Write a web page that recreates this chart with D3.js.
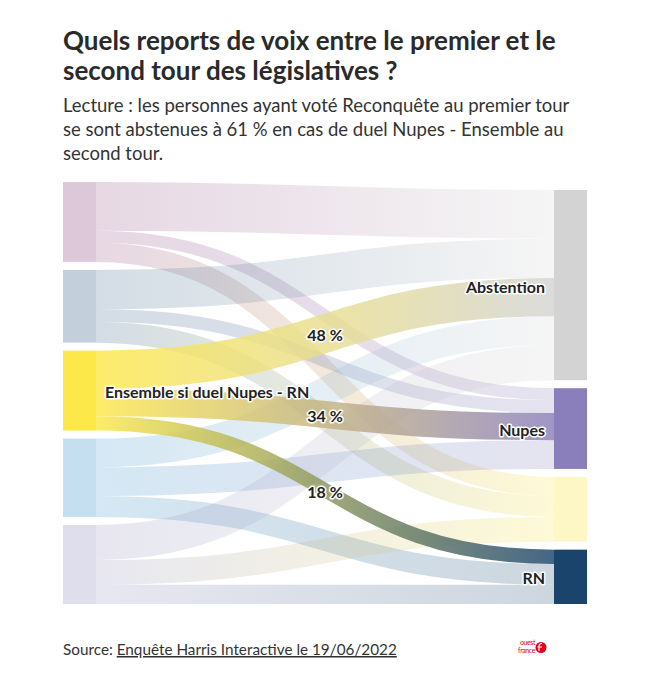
<!DOCTYPE html>
<html>
<head>
<meta charset="utf-8">
<script src="https://cdn.jsdelivr.net/npm/d3@7"></script>
<style>
  html, body { margin: 0; padding: 0; background: #fff; }
  svg { display: block; }
  text { font-family: "Source Sans Pro", Lato, "Noto Sans", sans-serif; }
</style>
</head>
<body>
<div id="chart"></div>
<script>
// ---------- DATA ----------
const titleLines = ["Quels reports de voix entre le premier et le", "second tour des législatives ?"];
const subtitleLines = [
  "Lecture : les personnes ayant voté Reconquête au premier tour",
  "se sont abstenues à 61 % en cas de duel Nupes - Ensemble au",
  "second tour."
];
const sourceText = "Source: ";
const sourceLink = "Enquête Harris Interactive le 19/06/2022";

// first-round electorate by second-round duel (left column)
const sources = [
  "Reconquête si duel Nupes - Ensemble",
  "LR si duel Nupes - Ensemble",
  "Ensemble si duel Nupes - RN",
  "LR si duel Nupes - RN",
  "Nupes si duel Ensemble - RN"
];
const sourceColors = ["#8f4a80", "#37628a", "#fde84a", "#3e94cd", "#9491c0"];

// second-round choice (right column)
const targets = ["Abstention", "Nupes", "Ensemble", "RN"];
const targetColors = ["#d3d3d3", "#8a7fba", "#f8e441", "#1b446c"];

// percentages, one value per source (null = no flow)
const toAbstention = [61, 49, 48, 36, 44];
const toNupes      = [15, 16, 34, 36, null];
const toEnsemble   = [24, 26, null, null, 31];
const toRN         = [null, null, 18, 26, 24];

const highlighted = "Ensemble si duel Nupes - RN";

// ---------- LAYOUT ----------
const W = 649, H = 680;
const chartTop = 182, chartBottom = 604;
const leftX = 63, rightX = 587, nodeW = 33, pad = 8;
const fadedNode = 0.3, fadedLink = 0.22, strongLink = 0.82;

const series = [toAbstention, toNupes, toEnsemble, toRN];
const links = [];
sources.forEach((s, i) => {
  series.forEach((arr, j) => {
    if (arr[i] != null) links.push({ si: i, ti: j, value: arr[i] });
  });
});

const srcNodes = sources.map((name, i) => ({ name, color: sourceColors[i], value: d3.sum(links.filter(l => l.si === i), l => l.value) }));
const tgtNodes = targets.map((name, j) => ({ name, color: targetColors[j], value: d3.sum(links.filter(l => l.ti === j), l => l.value) }));

const total = d3.sum(srcNodes, d => d.value);
const y = d3.scaleLinear().domain([0, total]).range([0, (chartBottom - chartTop) - (srcNodes.length - 1) * pad]);
const x = d3.scaleLinear().domain([0, 1]).range([leftX, rightX - nodeW]);

// left column stacked from top
let cy = chartTop;
srcNodes.forEach(n => { n.x0 = x(0); n.x1 = x(0) + nodeW; n.y0 = cy; n.y1 = cy + y(n.value); cy = n.y1 + pad; });
// right column bottom-aligned
const rightH = d3.sum(tgtNodes, d => y(d.value)) + (tgtNodes.length - 1) * pad;
cy = chartBottom - rightH;
tgtNodes.forEach(n => { n.x0 = x(1); n.x1 = x(1) + nodeW; n.y0 = cy; n.y1 = cy + y(n.value); cy = n.y1 + pad; });

// link offsets
srcNodes.forEach((n, i) => {
  let off = n.y0;
  links.filter(l => l.si === i).sort((a, b) => a.ti - b.ti).forEach(l => { l.w = y(l.value); l.y0 = off + l.w / 2; off += l.w; });
});
tgtNodes.forEach((n, j) => {
  let off = n.y0;
  links.filter(l => l.ti === j).sort((a, b) => a.si - b.si).forEach(l => { l.y1 = off + l.w / 2; off += l.w; });
});
links.forEach(l => {
  l.source = srcNodes[l.si]; l.target = tgtNodes[l.ti];
  l.hi = l.source.name === highlighted;
});
const hiTargets = new Set(links.filter(l => l.hi).map(l => l.ti));

// ---------- DRAW ----------
const svg = d3.select("#chart").append("svg").attr("width", W).attr("height", H);
const defs = svg.append("defs");

// title
svg.append("g").selectAll("text").data(titleLines).join("text")
  .attr("x", leftX).attr("y", (d, i) => 50 + i * 30)
  .attr("font-size", 26).attr("font-weight", 700).attr("fill", "#2a2a2a")
  .text(d => d);

svg.append("g").selectAll("text").data(subtitleLines).join("text")
  .attr("x", leftX).attr("y", (d, i) => 112 + i * 24)
  .attr("font-size", 18.5).attr("fill", "#333")
  .text(d => d);

// gradients
links.forEach((l, k) => {
  const g = defs.append("linearGradient").attr("id", "g" + k)
    .attr("gradientUnits", "userSpaceOnUse")
    .attr("x1", l.source.x1).attr("x2", l.target.x0).attr("y1", 0).attr("y2", 0);
  g.append("stop").attr("offset", "0%").attr("stop-color", l.source.color);
  g.append("stop").attr("offset", "100%").attr("stop-color", l.target.color);
  l.k = k;
});

const linkPath = d3.linkHorizontal().source(l => [l.source.x1, l.y0]).target(l => [l.target.x0, l.y1]);

const ordered = links.filter(l => !l.hi).concat(links.filter(l => l.hi));
svg.append("g").attr("fill", "none").selectAll("path").data(ordered).join("path")
  .attr("d", linkPath)
  .attr("stroke", l => `url(#g${l.k})`)
  .attr("stroke-width", l => l.w)
  .attr("stroke-opacity", l => l.hi ? strongLink : fadedLink);

// nodes
svg.append("g").selectAll("rect").data(srcNodes).join("rect")
  .attr("x", d => d.x0).attr("y", d => d.y0).attr("width", nodeW).attr("height", d => d.y1 - d.y0)
  .attr("fill", d => d.color).attr("opacity", d => d.name === highlighted ? 1 : fadedNode);
svg.append("g").selectAll("rect").data(tgtNodes).join("rect")
  .attr("x", d => d.x0).attr("y", d => d.y0).attr("width", nodeW).attr("height", d => d.y1 - d.y0)
  .attr("fill", d => d.color).attr("opacity", (d, j) => hiTargets.has(j) ? 1 : fadedNode);

const halo = sel => sel.attr("stroke", "#fff").attr("stroke-width", 3).attr("stroke-linejoin", "round").attr("paint-order", "stroke");

// labels
const labG = svg.append("g").attr("font-size", 16).attr("font-weight", 700).attr("fill", "#222");
labG.selectAll("text.src").data(srcNodes.filter(d => d.name === highlighted)).join("text")
  .attr("x", d => d.x1 + 9).attr("y", d => (d.y0 + d.y1) / 2 + 2).attr("dy", "0.35em")
  .text(d => d.name).call(halo);
labG.selectAll("text.tgt").data(tgtNodes.filter((d, j) => hiTargets.has(j))).join("text")
  .attr("x", d => d.x0 - 9).attr("y", d => (d.y0 + d.y1) / 2 + 2).attr("dy", "0.35em")
  .attr("text-anchor", "end")
  .text(d => d.name).call(halo);
labG.selectAll("text.pct").data(links.filter(l => l.hi)).join("text")
  .attr("x", l => (l.source.x1 + l.target.x0) / 2).attr("y", l => (l.y0 + l.y1) / 2 + 2).attr("dy", "0.35em")
  .attr("text-anchor", "middle")
  .text(l => l.value + " %").call(halo);

// footer
const ft = svg.append("text").attr("x", leftX).attr("y", 655).attr("font-size", 15.3).attr("fill", "#333");
ft.append("tspan").text(sourceText);
ft.append("tspan").attr("text-decoration", "underline").text(sourceLink);

// logo
const logo = svg.append("g").attr("fill", "#e2001a").attr("font-family", "Liberation Sans, Arial, sans-serif").attr("font-size", 7).attr("letter-spacing", -0.4);
logo.append("text").attr("x", 535).attr("y", 645).attr("text-anchor", "end").text("ouest");
logo.append("text").attr("x", 535).attr("y", 653).attr("text-anchor", "end").text("france");
logo.append("circle").attr("cx", 541).attr("cy", 647.5).attr("r", 5.5);
logo.append("path").attr("d", "M539,651 L539,646 Q539,643.5 542,643.5 M537.5,647 L542,647").attr("stroke", "#fff").attr("stroke-width", 1.2).attr("fill", "none");
</script>
</body>
</html>
